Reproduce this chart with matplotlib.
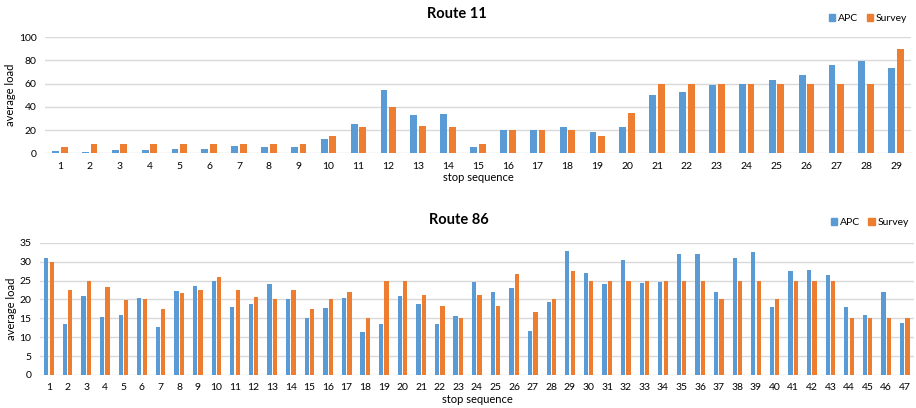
import matplotlib
matplotlib.use("Agg")
import matplotlib.pyplot as plt
import numpy as np
from matplotlib.patches import Patch

plt.rcParams['font.family'] = ['Lato', 'DejaVu Sans']

# Route 11
r11_stops = list(range(1, 30))
r11_apc = [2, 1, 3, 3, 4, 4, 6, 5, 5, 12, 25.5, 54, 32.5, 33.5, 5, 20, 20, 23, 18, 22.5,
           50, 53, 59, 60, 63, 67, 76, 79, 73]
r11_survey = [5, 8, 8, 8, 8, 8, 8, 8, 8, 15, 22.5, 40, 23.5, 22.5, 8, 20, 20, 20, 15, 35,
              60, 60, 60, 60, 60, 60, 60, 60, 90]

# Route 86
r86_stops = list(range(1, 48))
r86_apc = [30.9, 13.5, 20.9, 15.3, 16, 20.3, 12.7, 22.3, 23.5, 25, 18, 18.7, 24, 20.2, 15,
           17.6, 20.5, 11.5, 13.5, 20.9, 18.7, 13.6, 15.7, 24.7, 21.9, 23, 11.6, 19.2, 32.9,
           27, 24.2, 30.5, 24.3, 24.6, 31.9, 31.9, 22, 30.9, 32.5, 18, 27.4, 27.9, 26.4, 18,
           16, 22, 13.8]
r86_survey = [30, 22.5, 25, 23.3, 19.9, 20, 17.5, 21.6, 22.5, 26, 22.5, 20.6, 20, 22.5, 17.5,
              20, 22, 15, 25, 25, 21.2, 18.3, 15, 21.2, 18.3, 26.6, 16.6, 20, 27.4,
              25, 25, 25, 25, 25, 25, 25, 20, 25, 25, 20, 25, 25, 25, 15,
              15, 15, 15]

BLUE = '#5B9BD5'
ORANGE = '#ED7D31'
GRID = '#D9D9D9'

fig = plt.figure(figsize=(9.16, 4.08), dpi=100)

def draw(ax, stops, apc, survey, ymax, ystep):
    x = np.arange(len(stops))
    w = 0.23
    ax.bar(x - 0.145, apc, width=w, color=BLUE, zorder=3)
    ax.bar(x + 0.145, survey, width=w, color=ORANGE, zorder=3)
    ax.set_xlim(-0.5, len(stops) - 0.5)
    ax.set_ylim(0, ymax)
    ax.set_yticks(np.arange(0, ymax + 0.1, ystep))
    ax.set_xticks(x)
    ax.set_xticklabels([str(s) for s in stops])
    for s in ax.spines.values():
        s.set_visible(False)
    ax.grid(axis='y', color=GRID, linewidth=1, zorder=0)
    ax.tick_params(length=0, labelsize=7.5, colors='black', pad=6)
    ax.set_xlabel('stop sequence', fontsize=8, color='black', labelpad=1)
    ax.set_ylabel('average load', fontsize=8, color='black', labelpad=2)

ax1 = fig.add_axes([0.049, 0.6243, 0.9455, 0.285])
draw(ax1, r11_stops, r11_apc, r11_survey, 100, 20)
ax2 = fig.add_axes([0.0433, 0.0809, 0.9547, 0.3242])
draw(ax2, r86_stops, r86_apc, r86_survey, 35, 5)

fig.text(0.499, 0.966, 'Route 11', ha='center', va='center', fontsize=10.5, fontweight='bold')
fig.text(0.501, 0.461, 'Route 86', ha='center', va='center', fontsize=10.5, fontweight='bold')

handles = [Patch(color=BLUE, label='APC'), Patch(color=ORANGE, label='Survey')]
for pos in [(0.995, 0.975), (0.997, 0.475)]:
    fig.legend(handles=handles, loc='upper right', bbox_to_anchor=pos, ncol=2,
               frameon=False, fontsize=7.5, handlelength=0.6, handleheight=0.6,
               handletextpad=0.3, columnspacing=0.8, borderaxespad=0)

fig.savefig('out.png', dpi=100)
